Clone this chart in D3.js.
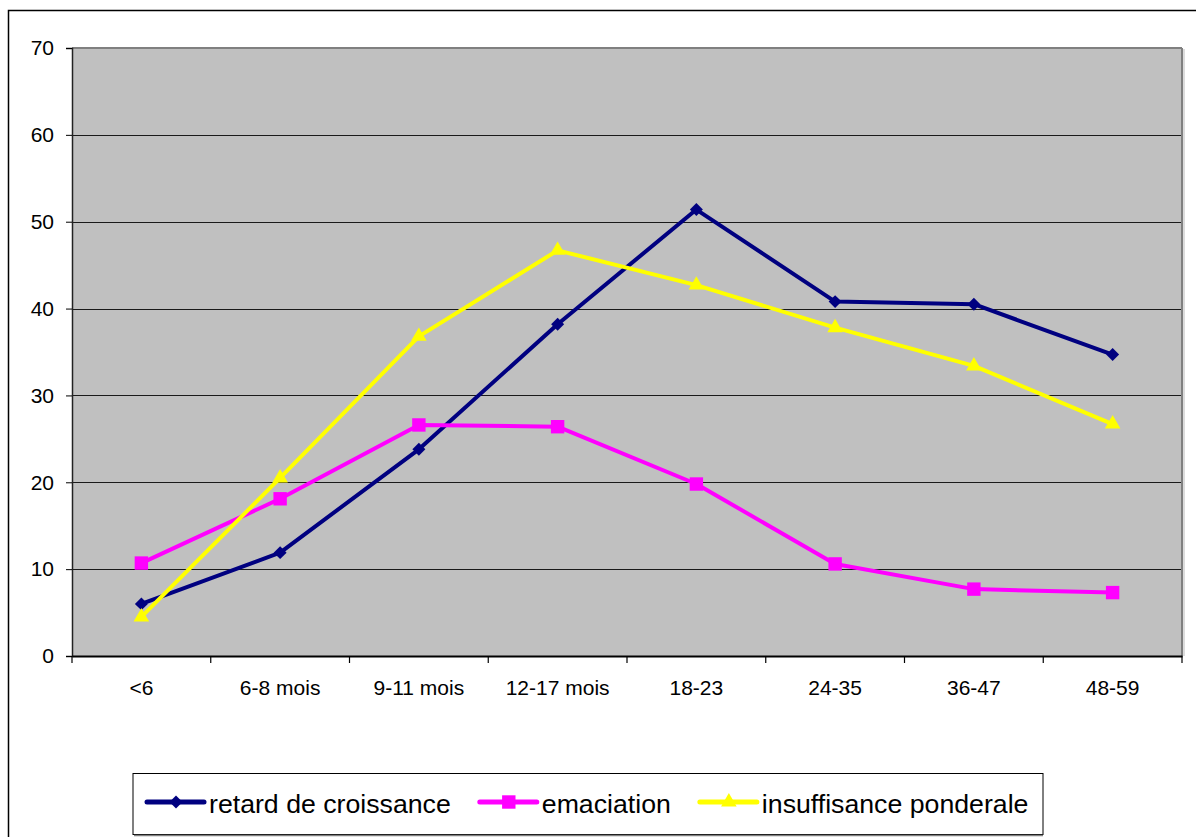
<!DOCTYPE html>
<html>
<head>
<meta charset="utf-8">
<script src="https://cdn.jsdelivr.net/npm/d3@7"></script>
<style>
  html, body { margin: 0; padding: 0; background: #fff; }
  svg { display: block; font-family: "Liberation Sans", Arial, sans-serif; }
</style>
</head>
<body>
<svg id="chart" width="1196" height="837"></svg>
<script>
// categories (age groups)
const categories = ['<6', '6-8 mois', '9-11 mois', '12-17 mois', '18-23', '24-35', '36-47', '48-59']

// series values (%)
const retard = [6.0, 11.9, 23.8, 38.2, 51.4, 40.8, 40.5, 34.7]
const emaciation = [10.7, 18.1, 26.6, 26.4, 19.8, 10.6, 7.7, 7.3]
const insuffisance = [4.5, 20.5, 36.8, 46.7, 42.7, 37.8, 33.4, 26.7]

const yTicks = [0, 10, 20, 30, 40, 50, 60, 70]

const seriesNames = ['retard de croissance', 'emaciation', 'insuffisance ponderale']

const series = [
  { name: seriesNames[0], values: retard, color: '#000080', symbol: 'diamond' },
  { name: seriesNames[1], values: emaciation, color: '#FF00FF', symbol: 'square' },
  { name: seriesNames[2], values: insuffisance, color: '#FFFF00', symbol: 'triangle' }
]

const svg = d3.select('#chart')

// outer chart frame (runs off the page right/bottom)
svg.append('rect')
  .attr('x', 8.5).attr('y', 10.5)
  .attr('width', 1250).attr('height', 900)
  .attr('fill', '#fff')
  .attr('stroke', '#000').attr('stroke-width', 1.5)

const plot = { left: 72, top: 48, right: 1182, bottom: 656 }

const x = d3.scaleBand()
  .domain(categories)
  .range([plot.left, plot.right])
  .padding(0)

const y = d3.scaleLinear()
  .domain([0, 70])
  .range([plot.bottom, plot.top])

// plot background
svg.append('rect')
  .attr('x', plot.left).attr('y', plot.top)
  .attr('width', plot.right - plot.left).attr('height', plot.bottom - plot.top)
  .attr('fill', '#C0C0C0')

// gridlines
svg.append('g')
  .selectAll('line')
  .data(yTicks.filter(d => d > 0 && d < 70))
  .enter()
  .append('line')
  .attr('x1', plot.left).attr('x2', plot.right)
  .attr('y1', d => Math.round(y(d)) + 0.5)
  .attr('y2', d => Math.round(y(d)) + 0.5)
  .attr('stroke', '#1a1a1a')
  .attr('stroke-width', 1)

// plot border (top / right grey with a light shadow)
svg.append('line')
  .attr('x1', plot.left).attr('x2', plot.right)
  .attr('y1', plot.top).attr('y2', plot.top)
  .attr('stroke', '#808080').attr('stroke-width', 2)
svg.append('line')
  .attr('x1', plot.right).attr('x2', plot.right)
  .attr('y1', plot.top).attr('y2', plot.bottom)
  .attr('stroke', '#808080').attr('stroke-width', 2)
svg.append('line')
  .attr('x1', plot.right + 2).attr('x2', plot.right + 2)
  .attr('y1', plot.top + 1).attr('y2', plot.bottom)
  .attr('stroke', '#d0d0d0').attr('stroke-width', 1.5)

// y axis
const yAxis = svg.append('g')
  .attr('transform', `translate(${plot.left},0)`)
  .call(d3.axisLeft(y).tickValues(yTicks).tickSize(6).tickPadding(12).tickFormat(d3.format('d')))
yAxis.select('.domain').attr('stroke', '#222').attr('stroke-width', 1.5)
yAxis.selectAll('.tick line').attr('stroke', '#000')
yAxis.selectAll('.tick text')
  .attr('font-size', 21)
  .attr('fill', '#000')
  .attr('font-family', '"Liberation Sans", Arial, sans-serif')

// x axis (labels centred in bands, ticks on band edges)
const xAxis = svg.append('g')
  .attr('transform', `translate(0,${plot.bottom})`)
  .call(d3.axisBottom(x).tickSize(0).tickPadding(24))
xAxis.select('.domain').attr('stroke', '#000').attr('stroke-width', 2)
xAxis.selectAll('.tick text')
  .attr('font-size', 21)
  .attr('fill', '#000')
  .attr('font-family', '"Liberation Sans", Arial, sans-serif')

const edges = categories.map(c => x(c)).concat([x.range()[1]])
xAxis.selectAll('.edge')
  .data(edges)
  .enter()
  .append('line')
  .attr('class', 'edge')
  .attr('x1', d => d).attr('x2', d => d)
  .attr('y1', 0).attr('y2', 7)
  .attr('stroke', '#000').attr('stroke-width', 1.2)

// marker paths
const markerPath = {
  diamond: d3.symbol().type(d3.symbolSquare).size(84)(),
  square: d3.symbol().type(d3.symbolSquare).size(180)(),
  triangle: d3.symbol().type(d3.symbolTriangle).size(105)()
}
const markerRotate = { diamond: 45, square: 0, triangle: 0 }

const line = d3.line()
  .x((d, i) => x(categories[i]) + x.bandwidth() / 2)
  .y(d => y(d))

const lines = svg.append('g')
series.forEach(s => {
  lines.append('path')
    .datum(s.values)
    .attr('d', line)
    .attr('fill', 'none')
    .attr('stroke', s.color)
    .attr('stroke-width', 4)
    .attr('stroke-linejoin', 'round')
})

series.forEach(s => {
  lines.append('g')
    .selectAll('path')
    .data(s.values)
    .enter()
    .append('path')
    .attr('d', markerPath[s.symbol])
    .attr('transform', (d, i) =>
      `translate(${x(categories[i]) + x.bandwidth() / 2},${y(d)}) rotate(${markerRotate[s.symbol]})`)
    .attr('fill', s.color)
})

// legend
const legend = svg.append('g')
legend.append('rect')
  .attr('x', 133).attr('y', 773.5)
  .attr('width', 910).attr('height', 61)
  .attr('fill', '#fff')
  .attr('stroke', '#000').attr('stroke-width', 1)
legend.append('line')
  .attr('x1', 134).attr('x2', 1043)
  .attr('y1', 835.5).attr('y2', 835.5)
  .attr('stroke', '#808080').attr('stroke-width', 1.5)

let lx = 147
const ly = 802
series.forEach(s => {
  const item = legend.append('g')
  item.append('line')
    .attr('x1', lx).attr('x2', lx + 57)
    .attr('y1', ly).attr('y2', ly)
    .attr('stroke', s.color).attr('stroke-width', 5)
    .attr('stroke-linecap', 'round')
  item.append('path')
    .attr('d', markerPath[s.symbol])
    .attr('transform', `translate(${lx + 29},${ly}) rotate(${markerRotate[s.symbol]})`)
    .attr('fill', s.color)
  const t = item.append('text')
    .attr('x', lx + 62).attr('y', ly + 11)
    .attr('font-size', 26.7)
    .attr('fill', '#000')
    .text(s.name)
  lx = lx + 62 + t.node().getComputedTextLength() + 29
})
</script>
</body>
</html>
